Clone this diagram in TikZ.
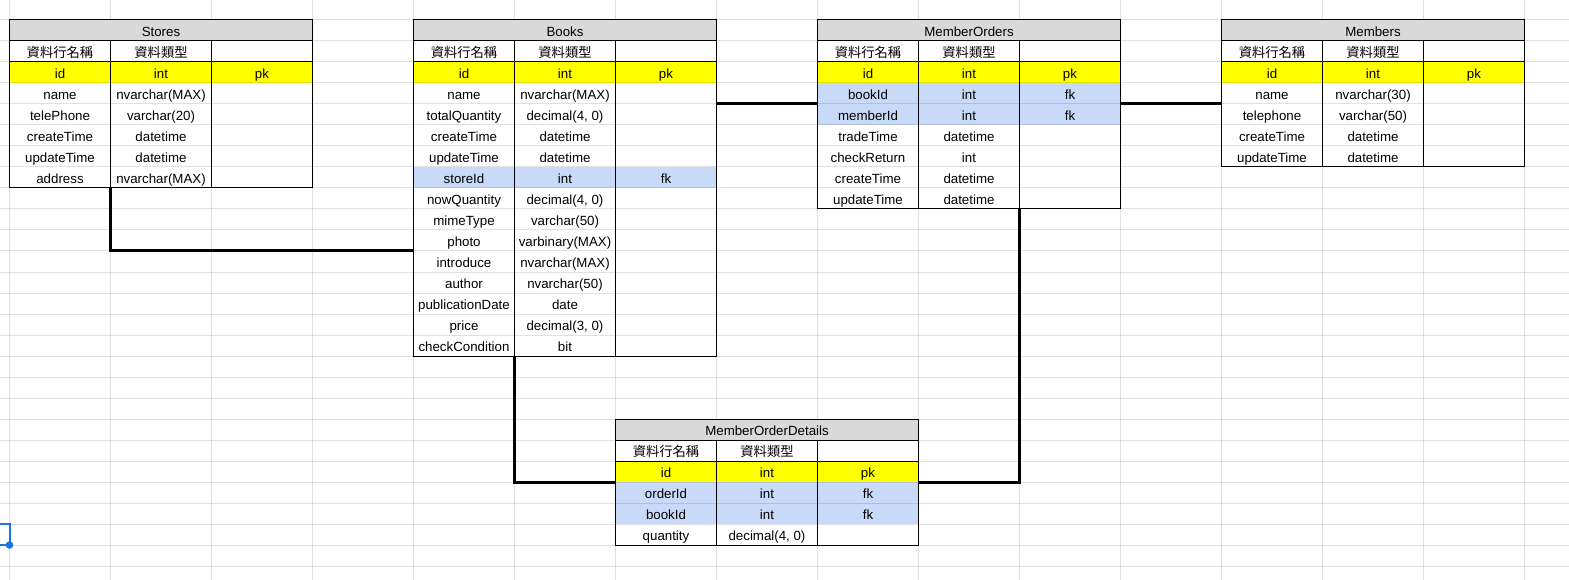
\documentclass[tikz,border=0pt]{standalone}
\usepackage{fontspec}
\setmainfont{Liberation Sans}
\newfontfamily\cjk{Noto Sans CJK TC}
\definecolor{fillW}{HTML}{FFFFFF}
\definecolor{fillY}{HTML}{FFFF00}
\definecolor{fillB}{HTML}{C9DAF8}
\definecolor{titlegray}{HTML}{D9D9D9}
\definecolor{selblue}{HTML}{1A73E8}
\pgfdeclarelayer{paper}
\pgfdeclarelayer{fills}
\pgfdeclarelayer{grid}
\pgfsetlayers{paper,fills,grid,main}
\tikzset{
  cell/.style={anchor=north west, minimum width=101pt, minimum height=21pt, inner sep=0pt,
    outer sep=0pt, text height=12pt, text depth=0pt,
    font=\fontsize{13.3}{16}\selectfont, text=black},
  titlecell/.style={cell, minimum width=303pt, fill=titlegray},
  gridline/.style={draw=black, draw opacity=0.12, line width=1pt},
  border/.style={draw=black, line width=1pt},
  link/.style={draw=black, line width=3pt, line join=miter},
}
\newcommand\hdrA{{\cjk 資料行名稱}}
\newcommand\hdrB{{\cjk 資料類型}}
\newcommand\dbtable[5]{%
  \pgfmathsetmacro\tx{9.5+101*#2}%
  \pgfmathsetmacro\ty{20+21*#3}%
  \node[titlecell] (#1-0) at (\tx,\ty) {#4};
  \begin{pgfonlayer}{fills}
  \foreach \a/\b/\c/\f [count=\i] in {#5} {
    \pgfmathsetmacro\yy{\ty+21*\i}
    \node[cell, fill=fill\f] (#1-\i-0) at (\tx,\yy) {\a};
    \node[cell, fill=fill\f] (#1-\i-1) at (\tx+101,\yy) {\b};
    \node[cell, fill=fill\f] (#1-\i-2) at (\tx+202,\yy) {\c};
    \xdef\lastrow{\i}
  }
  \end{pgfonlayer}
  \draw[border] (#1-0.north west) rectangle (#1-\lastrow-2.south east);
  \draw[border] (#1-0.south west) -- (#1-0.south east);
  \draw[border] (#1-1-0.south west) -- (#1-1-2.south east);
  \draw[border] (#1-1-0.north east) -- (#1-\lastrow-0.south east);
  \draw[border] (#1-1-1.north east) -- (#1-\lastrow-1.south east);
}
\begin{document}
\begin{tikzpicture}[x=1pt, y=-1pt]
\useasboundingbox (0,0) rectangle (1569,580);
\begin{pgfonlayer}{paper}
\fill[white] (0,0) rectangle (1569,580);
\end{pgfonlayer}
% spreadsheet grid
\begin{pgfonlayer}{grid}
\foreach \k in {0,...,15} \draw[gridline] (9.5+101*\k,0) -- (9.5+101*\k,580);
\foreach \k in {0,...,26} \draw[gridline] (0,20+21*\k) -- (1569,20+21*\k);
\end{pgfonlayer}

\dbtable{S}{0}{0}{Stores}{\hdrA/\hdrB/{}/W, id/int/pk/Y, name/nvarchar(MAX)/{}/W,
  telePhone/varchar(20)/{}/W, createTime/datetime/{}/W, updateTime/datetime/{}/W,
  address/nvarchar(MAX)/{}/W}

\dbtable{B}{4}{0}{Books}{\hdrA/\hdrB/{}/W, id/int/pk/Y, name/nvarchar(MAX)/{}/W,
  totalQuantity/{decimal(4, 0)}/{}/W, createTime/datetime/{}/W, updateTime/datetime/{}/W,
  storeId/int/fk/B, nowQuantity/{decimal(4, 0)}/{}/W, mimeType/varchar(50)/{}/W,
  photo/varbinary(MAX)/{}/W, introduce/nvarchar(MAX)/{}/W, author/nvarchar(50)/{}/W,
  publicationDate/date/{}/W, price/{decimal(3, 0)}/{}/W, checkCondition/bit/{}/W}

\dbtable{MO}{8}{0}{MemberOrders}{\hdrA/\hdrB/{}/W, id/int/pk/Y, bookId/int/fk/B,
  memberId/int/fk/B, tradeTime/datetime/{}/W, checkReturn/int/{}/W,
  createTime/datetime/{}/W, updateTime/datetime/{}/W}

\dbtable{M}{12}{0}{Members}{\hdrA/\hdrB/{}/W, id/int/pk/Y, name/nvarchar(30)/{}/W,
  telephone/varchar(50)/{}/W, createTime/datetime/{}/W, updateTime/datetime/{}/W}

\dbtable{D}{6}{19}{MemberOrderDetails}{\hdrA/\hdrB/{}/W, id/int/pk/Y, orderId/int/fk/B,
  bookId/int/fk/B, quantity/{decimal(4, 0)}/{}/W}

% relations
\draw[link] (S-7-0.south east) |- (B-10-0.south west);
\draw[link] (B-3-2.south east) -- (MO-3-0.south west);
\draw[link] (MO-3-2.south east) -- (M-3-0.south west);
\draw[link] (B-15-0.south east) |- (D-2-0.south west);
\draw[link] (MO-8-1.south east) |- (D-2-2.south east);

% selected cell marker
\coordinate (sel) at (9.5,545);
\draw[selblue, line width=2pt] (0,524) -| (sel) -- (0,545);
\fill[selblue] (sel) circle (3.8pt);
\end{tikzpicture}
\end{document}
